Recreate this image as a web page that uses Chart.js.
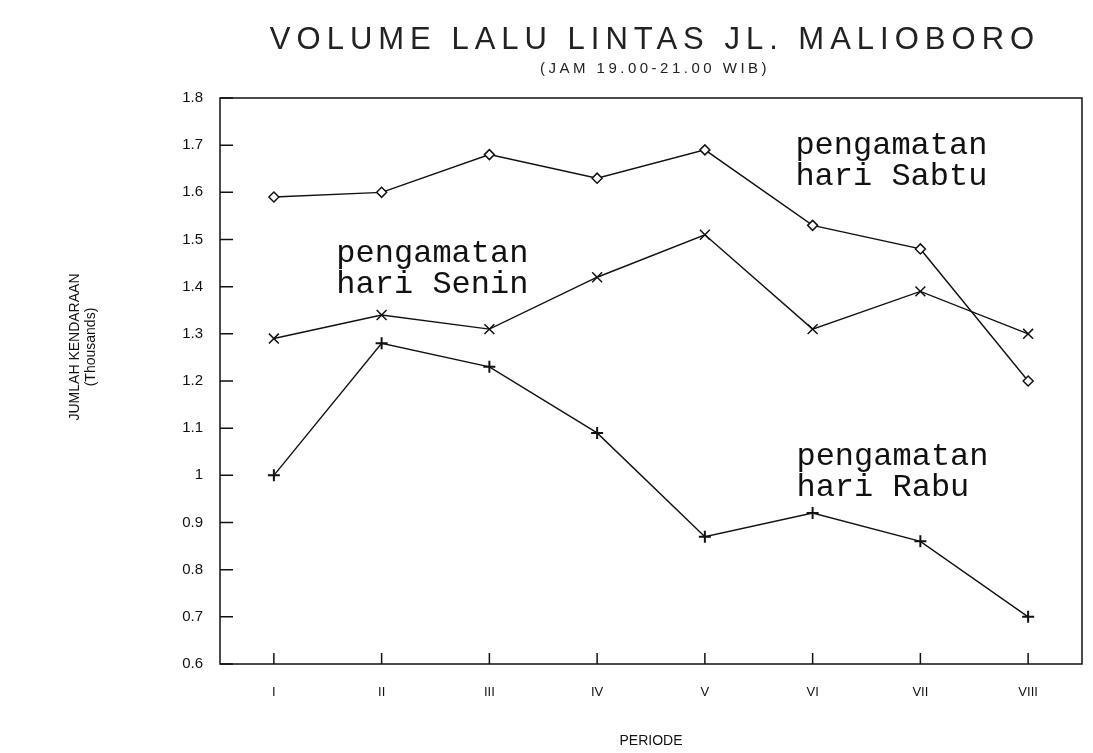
<!DOCTYPE html>
<html>
<head>
<meta charset="utf-8">
<script src="https://cdn.jsdelivr.net/npm/chart.js@4.4.1/dist/chart.umd.min.js"></script>
<style>
  html, body { margin: 0; background: #fff; }
</style>
</head>
<body>
<canvas id="chart" width="1093" height="753"></canvas>
<script>
const periods = ["I", "II", "III", "IV", "V", "VI", "VII", "VIII"];
const sabtu = [1.59, 1.60, 1.68, 1.63, 1.69, 1.53, 1.48, 1.20];
const senin = [1.29, 1.34, 1.31, 1.42, 1.51, 1.31, 1.39, 1.30];
const rabu  = [1.00, 1.28, 1.23, 1.09, 0.87, 0.92, 0.86, 0.70];
const yTicks = [0.6, 0.7, 0.8, 0.9, 1, 1.1, 1.2, 1.3, 1.4, 1.5, 1.6, 1.7, 1.8];

const titleText = "VOLUME LALU LINTAS JL. MALIOBORO";
const subtitleText = "(JAM 19.00-21.00 WIB)";
const yTitle = ["JUMLAH KENDARAAN", "(Thousands)"];

// text labels next to the lines (category index, value)
const notes = [
  { lines: ["pengamatan", "hari Sabtu"], at: 4.84, value: 1.70 },
  { lines: ["pengamatan", "hari Senin"], at: 0.58, value: 1.47 },
  { lines: ["pengamatan", "hari Rabu"],  at: 4.85, value: 1.04 }
];

const ink = "#111";
const sans = "'Liberation Sans', Arial, sans-serif";

// frame, inward tick marks, titles and notes
const decor = {
  id: "decor",
  afterDatasetsDraw(chart) {
    const ctx = chart.ctx;
    const a = chart.chartArea;
    const xs = chart.scales.x, ys = chart.scales.y;
    ctx.save();
    ctx.strokeStyle = ink;
    ctx.lineWidth = 1.5;
    ctx.strokeRect(a.left, a.top, a.right - a.left, a.bottom - a.top);

    ctx.beginPath();
    ys.ticks.forEach((t, i) => {
      const py = ys.getPixelForTick(i);
      ctx.moveTo(a.left, py);
      ctx.lineTo(a.left + 13, py);
    });
    xs.ticks.forEach((t, i) => {
      const px = xs.getPixelForTick(i);
      ctx.moveTo(px, a.bottom);
      ctx.lineTo(px, a.bottom - 11);
    });
    ctx.stroke();

    // notes
    ctx.fillStyle = ink;
    ctx.font = "32px 'Liberation Mono', 'DejaVu Sans Mono', monospace";
    ctx.textBaseline = "middle";
    ctx.textAlign = "left";
    const step = xs.getPixelForValue(1) - xs.getPixelForValue(0);
    notes.forEach(n => {
      const px = xs.getPixelForValue(0) + n.at * step;
      const py = ys.getPixelForValue(n.value);
      n.lines.forEach((line, k) => ctx.fillText(line, px, py + k * 31));
    });

    // title + subtitle
    const cx = (a.left + a.right) / 2 + 4;
    ctx.textAlign = "center";
    ctx.fillStyle = "#222";
    ctx.font = "31px " + sans;
    ctx.letterSpacing = "6px";
    ctx.fillText(titleText, cx, 40);
    ctx.font = "15px " + sans;
    ctx.letterSpacing = "3.5px";
    ctx.fillText(subtitleText, cx, 69);

    // y axis title, rotated
    ctx.letterSpacing = "0px";
    ctx.fillStyle = ink;
    ctx.font = "14px " + sans;
    ctx.translate(75, (a.top + a.bottom) / 2 - 34);
    ctx.rotate(-Math.PI / 2);
    yTitle.forEach((line, k) => ctx.fillText(line, 0, k * 16));
    ctx.restore();
  }
};

const lineStyle = {
  borderColor: ink,
  borderWidth: 1.4,
  pointBorderColor: ink,
  pointBackgroundColor: "#fff",
  tension: 0,
  fill: false
};

new Chart(document.getElementById("chart"), {
  type: "line",
  data: {
    labels: periods,
    datasets: [
      Object.assign({ label: "pengamatan hari Sabtu", data: sabtu,
        pointStyle: "rectRot", pointRadius: 5, pointBorderWidth: 1.5 }, lineStyle),
      Object.assign({ label: "pengamatan hari Senin", data: senin,
        pointStyle: "crossRot", pointRadius: 7, pointBorderWidth: 1.5 }, lineStyle),
      Object.assign({ label: "pengamatan hari Rabu", data: rabu,
        pointStyle: "cross", pointRadius: 6, pointBorderWidth: 2 }, lineStyle)
    ]
  },
  options: {
    responsive: false,
    devicePixelRatio: 1,
    animation: false,
    layout: { padding: { top: 98, right: 11, bottom: 0, left: 0 } },
    plugins: {
      legend: { display: false },
      tooltip: { enabled: false }
    },
    scales: {
      x: {
        offset: true,
        grid: { display: false },
        border: { display: false },
        ticks: {
          color: ink,
          padding: 13,
          font: { family: sans, size: 13 }
        },
        title: {
          display: true,
          text: "PERIODE",
          color: ink,
          padding: { top: 0, bottom: 3 },
          font: { family: sans, size: 14 }
        },
        afterFit: s => { s.height = 89; }
      },
      y: {
        min: 0.6,
        max: 1.8,
        grid: { display: false },
        border: { display: false },
        afterBuildTicks: s => { s.ticks = yTicks.map(v => ({ value: v })); },
        ticks: {
          color: ink,
          padding: 9,
          callback: v => String(v),
          font: { family: sans, size: 15 }
        },
        afterFit: s => { s.width = 220; }
      }
    }
  },
  plugins: [decor]
});
</script>
</body>
</html>
